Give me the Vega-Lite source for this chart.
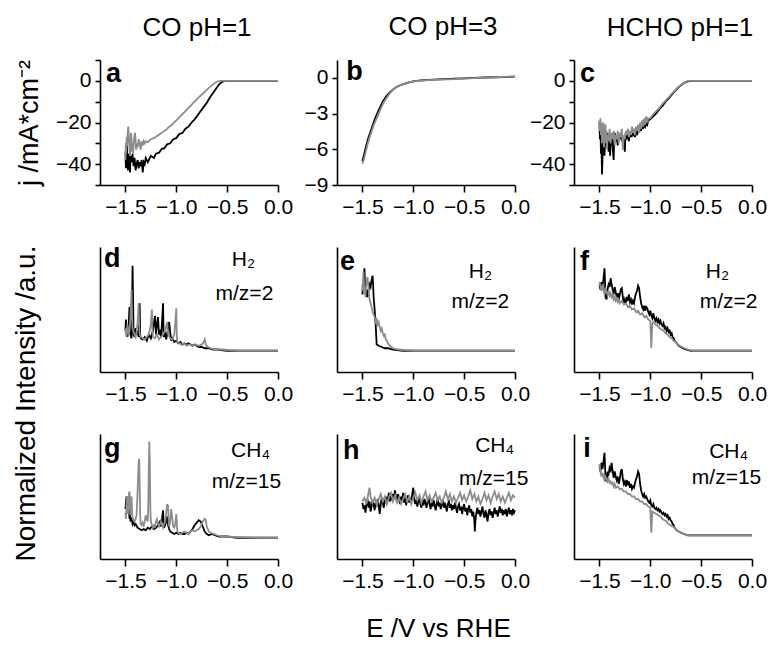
{
"$schema":"https://vega.github.io/schema/vega-lite/v6.json",
"background":"white",
"padding":{"left":12,"top":14,"right":5,"bottom":0},
"columns":3,
"spacing":{"row":62,"column":59},
"bounds":"flush",
"resolve":{"scale":{"x":"independent","y":"independent"}},
"datasets":{
"a_k":[{"E":-1.5,"v":-34},{"E":-1.495,"v":-42},{"E":-1.49,"v":-36},{"E":-1.485,"v":-31},{"E":-1.48,"v":-40},{"E":-1.475,"v":-43},{"E":-1.47,"v":-35},{"E":-1.46,"v":-38},{"E":-1.455,"v":-44},{"E":-1.45,"v":-36},{"E":-1.44,"v":-39},{"E":-1.43,"v":-35},{"E":-1.42,"v":-41},{"E":-1.41,"v":-37},{"E":-1.4,"v":-43},{"E":-1.39,"v":-40},{"E":-1.38,"v":-38},{"E":-1.37,"v":-42},{"E":-1.36,"v":-39},{"E":-1.35,"v":-41},{"E":-1.34,"v":-38},{"E":-1.33,"v":-44},{"E":-1.32,"v":-39},{"E":-1.31,"v":-40},{"E":-1.3,"v":-37},{"E":-1.28,"v":-39},{"E":-1.25,"v":-36},{"E":-1.22,"v":-37},{"E":-1.2,"v":-35},{"E":-1.17,"v":-34.5},{"E":-1.14,"v":-32.5},{"E":-1.12,"v":-32.5},{"E":-1.09,"v":-30.5},{"E":-1.06,"v":-30},{"E":-1.03,"v":-28},{"E":-1.0,"v":-27.5},{"E":-0.97,"v":-25.5},{"E":-0.94,"v":-25},{"E":-0.91,"v":-23},{"E":-0.88,"v":-22},{"E":-0.85,"v":-20},{"E":-0.82,"v":-18.5},{"E":-0.79,"v":-16.5},{"E":-0.76,"v":-14.5},{"E":-0.73,"v":-12.5},{"E":-0.7,"v":-10.5},{"E":-0.67,"v":-8},{"E":-0.64,"v":-6},{"E":-0.61,"v":-3.8},{"E":-0.58,"v":-1.8},{"E":-0.55,"v":-0.5},{"E":-0.52,"v":0},{"E":-0.3,"v":0},{"E":0,"v":0}],
"a_g":[{"E":-1.5,"v":-38},{"E":-1.497,"v":-30},{"E":-1.493,"v":-35},{"E":-1.488,"v":-27},{"E":-1.483,"v":-31},{"E":-1.478,"v":-25},{"E":-1.472,"v":-22},{"E":-1.466,"v":-27},{"E":-1.46,"v":-33},{"E":-1.455,"v":-36},{"E":-1.45,"v":-30},{"E":-1.445,"v":-25},{"E":-1.44,"v":-28},{"E":-1.435,"v":-34},{"E":-1.43,"v":-30},{"E":-1.425,"v":-35},{"E":-1.42,"v":-31},{"E":-1.415,"v":-28},{"E":-1.41,"v":-26},{"E":-1.405,"v":-25},{"E":-1.4,"v":-29},{"E":-1.395,"v":-33},{"E":-1.39,"v":-30},{"E":-1.38,"v":-32},{"E":-1.37,"v":-28},{"E":-1.36,"v":-30},{"E":-1.35,"v":-33},{"E":-1.34,"v":-29},{"E":-1.33,"v":-31},{"E":-1.32,"v":-29},{"E":-1.31,"v":-30},{"E":-1.3,"v":-29},{"E":-1.28,"v":-29.5},{"E":-1.25,"v":-28},{"E":-1.22,"v":-27.5},{"E":-1.19,"v":-26.5},{"E":-1.16,"v":-25.5},{"E":-1.13,"v":-24.5},{"E":-1.1,"v":-23.5},{"E":-1.07,"v":-22},{"E":-1.04,"v":-21},{"E":-1.01,"v":-19.5},{"E":-0.98,"v":-18},{"E":-0.95,"v":-16.5},{"E":-0.92,"v":-15},{"E":-0.89,"v":-13.5},{"E":-0.86,"v":-12},{"E":-0.83,"v":-10.5},{"E":-0.8,"v":-9},{"E":-0.77,"v":-7.5},{"E":-0.74,"v":-6.2},{"E":-0.71,"v":-4.8},{"E":-0.68,"v":-3.4},{"E":-0.65,"v":-2.2},{"E":-0.62,"v":-1},{"E":-0.59,"v":-0.2},{"E":-0.56,"v":0},{"E":-0.3,"v":0},{"E":0,"v":0}],
"b_k":[{"E":-1.5,"v":-7.0},{"E":-1.48,"v":-6.3},{"E":-1.46,"v":-5.6},{"E":-1.44,"v":-5.0},{"E":-1.42,"v":-4.5},{"E":-1.4,"v":-4.0},{"E":-1.38,"v":-3.5},{"E":-1.36,"v":-3.1},{"E":-1.34,"v":-2.7},{"E":-1.32,"v":-2.35},{"E":-1.3,"v":-2.0},{"E":-1.27,"v":-1.6},{"E":-1.24,"v":-1.3},{"E":-1.21,"v":-1.05},{"E":-1.18,"v":-0.85},{"E":-1.15,"v":-0.7},{"E":-1.12,"v":-0.6},{"E":-1.09,"v":-0.5},{"E":-1.05,"v":-0.4},{"E":-1.0,"v":-0.3},{"E":-0.95,"v":-0.23},{"E":-0.9,"v":-0.2},{"E":-0.8,"v":-0.15},{"E":-0.7,"v":-0.1},{"E":-0.6,"v":-0.07},{"E":-0.5,"v":-0.04},{"E":-0.4,"v":0},{"E":-0.3,"v":0.03},{"E":-0.2,"v":0.05},{"E":-0.1,"v":0.07},{"E":0,"v":0.1}],
"b_g":[{"E":-1.5,"v":-7.2},{"E":-1.49,"v":-7.0},{"E":-1.47,"v":-6.3},{"E":-1.45,"v":-5.6},{"E":-1.43,"v":-5.0},{"E":-1.41,"v":-4.5},{"E":-1.39,"v":-4.0},{"E":-1.37,"v":-3.6},{"E":-1.35,"v":-3.2},{"E":-1.33,"v":-2.8},{"E":-1.31,"v":-2.4},{"E":-1.29,"v":-2.05},{"E":-1.26,"v":-1.65},{"E":-1.23,"v":-1.3},{"E":-1.2,"v":-1.0},{"E":-1.17,"v":-0.8},{"E":-1.14,"v":-0.65},{"E":-1.1,"v":-0.52},{"E":-1.05,"v":-0.4},{"E":-1.0,"v":-0.3},{"E":-0.9,"v":-0.22},{"E":-0.8,"v":-0.17},{"E":-0.6,"v":-0.1},{"E":-0.4,"v":-0.02},{"E":-0.2,"v":0.05},{"E":0,"v":0.12}],
"c_k":[{"E":-1.5,"v":-20},{"E":-1.495,"v":-28},{"E":-1.49,"v":-22},{"E":-1.485,"v":-35},{"E":-1.48,"v":-30},{"E":-1.475,"v":-45},{"E":-1.47,"v":-38},{"E":-1.465,"v":-25},{"E":-1.46,"v":-33},{"E":-1.455,"v":-28},{"E":-1.45,"v":-36},{"E":-1.445,"v":-30},{"E":-1.44,"v":-27},{"E":-1.43,"v":-31},{"E":-1.42,"v":-25},{"E":-1.41,"v":-34},{"E":-1.4,"v":-28},{"E":-1.395,"v":-36},{"E":-1.39,"v":-29},{"E":-1.38,"v":-26},{"E":-1.37,"v":-32},{"E":-1.36,"v":-38},{"E":-1.355,"v":-28},{"E":-1.35,"v":-25},{"E":-1.34,"v":-29},{"E":-1.33,"v":-27},{"E":-1.32,"v":-31},{"E":-1.31,"v":-26},{"E":-1.3,"v":-28},{"E":-1.29,"v":-25},{"E":-1.28,"v":-29},{"E":-1.27,"v":-26},{"E":-1.26,"v":-30},{"E":-1.25,"v":-34},{"E":-1.245,"v":-27},{"E":-1.24,"v":-25},{"E":-1.23,"v":-28},{"E":-1.22,"v":-26},{"E":-1.21,"v":-29},{"E":-1.2,"v":-25},{"E":-1.19,"v":-27},{"E":-1.18,"v":-24},{"E":-1.17,"v":-26},{"E":-1.16,"v":-25},{"E":-1.15,"v":-27},{"E":-1.14,"v":-24},{"E":-1.13,"v":-26},{"E":-1.12,"v":-23},{"E":-1.11,"v":-25},{"E":-1.1,"v":-22},{"E":-1.09,"v":-24},{"E":-1.08,"v":-21},{"E":-1.07,"v":-23},{"E":-1.06,"v":-21},{"E":-1.05,"v":-22},{"E":-1.04,"v":-20},{"E":-1.03,"v":-21},{"E":-1.02,"v":-19},{"E":-1.0,"v":-18.5},{"E":-0.97,"v":-17},{"E":-0.94,"v":-15.5},{"E":-0.91,"v":-13.5},{"E":-0.88,"v":-12},{"E":-0.85,"v":-10},{"E":-0.82,"v":-8.5},{"E":-0.79,"v":-6.8},{"E":-0.76,"v":-5},{"E":-0.73,"v":-3.5},{"E":-0.7,"v":-2.2},{"E":-0.67,"v":-1.1},{"E":-0.64,"v":-0.4},{"E":-0.61,"v":-0.1},{"E":-0.58,"v":0},{"E":-0.3,"v":0},{"E":0,"v":0}],
"c_g":[{"E":-1.5,"v":-19},{"E":-1.495,"v":-24},{"E":-1.49,"v":-18},{"E":-1.485,"v":-26},{"E":-1.48,"v":-20},{"E":-1.475,"v":-30},{"E":-1.47,"v":-22},{"E":-1.465,"v":-28},{"E":-1.46,"v":-20},{"E":-1.455,"v":-32},{"E":-1.45,"v":-24},{"E":-1.445,"v":-27},{"E":-1.44,"v":-21},{"E":-1.435,"v":-30},{"E":-1.43,"v":-24},{"E":-1.425,"v":-33},{"E":-1.42,"v":-26},{"E":-1.41,"v":-29},{"E":-1.4,"v":-23},{"E":-1.39,"v":-30},{"E":-1.38,"v":-25},{"E":-1.37,"v":-28},{"E":-1.36,"v":-24},{"E":-1.35,"v":-31},{"E":-1.34,"v":-26},{"E":-1.33,"v":-28},{"E":-1.32,"v":-24},{"E":-1.31,"v":-30},{"E":-1.3,"v":-25},{"E":-1.29,"v":-27},{"E":-1.28,"v":-23},{"E":-1.27,"v":-33},{"E":-1.26,"v":-26},{"E":-1.25,"v":-28},{"E":-1.24,"v":-24},{"E":-1.23,"v":-26},{"E":-1.22,"v":-23},{"E":-1.21,"v":-27},{"E":-1.2,"v":-24},{"E":-1.19,"v":-26},{"E":-1.18,"v":-22},{"E":-1.17,"v":-25},{"E":-1.16,"v":-23},{"E":-1.15,"v":-26},{"E":-1.14,"v":-22},{"E":-1.13,"v":-24},{"E":-1.12,"v":-21},{"E":-1.11,"v":-25},{"E":-1.1,"v":-20},{"E":-1.09,"v":-23},{"E":-1.08,"v":-19},{"E":-1.07,"v":-22},{"E":-1.06,"v":-18},{"E":-1.05,"v":-21},{"E":-1.04,"v":-17},{"E":-1.03,"v":-20},{"E":-1.02,"v":-18},{"E":-1.0,"v":-18},{"E":-0.97,"v":-16},{"E":-0.94,"v":-14.5},{"E":-0.91,"v":-13},{"E":-0.88,"v":-11},{"E":-0.85,"v":-9.5},{"E":-0.82,"v":-8},{"E":-0.79,"v":-6.3},{"E":-0.76,"v":-4.7},{"E":-0.73,"v":-3.2},{"E":-0.7,"v":-2},{"E":-0.67,"v":-1},{"E":-0.64,"v":-0.3},{"E":-0.61,"v":0},{"E":-0.3,"v":0},{"E":0,"v":0}],
"d_k":[{"E":-1.5,"v":0.33},{"E":-1.495,"v":0.42},{"E":-1.49,"v":0.3},{"E":-1.485,"v":0.36},{"E":-1.48,"v":0.28},{"E":-1.47,"v":0.34},{"E":-1.46,"v":0.52},{"E":-1.455,"v":0.32},{"E":-1.45,"v":0.3},{"E":-1.44,"v":0.27},{"E":-1.435,"v":0.5},{"E":-1.43,"v":0.85},{"E":-1.425,"v":0.6},{"E":-1.42,"v":0.3},{"E":-1.41,"v":0.28},{"E":-1.4,"v":0.35},{"E":-1.39,"v":0.3},{"E":-1.38,"v":0.33},{"E":-1.37,"v":0.28},{"E":-1.365,"v":0.42},{"E":-1.36,"v":0.55},{"E":-1.355,"v":0.3},{"E":-1.35,"v":0.27},{"E":-1.33,"v":0.26},{"E":-1.31,"v":0.28},{"E":-1.29,"v":0.25},{"E":-1.27,"v":0.3},{"E":-1.25,"v":0.27},{"E":-1.23,"v":0.33},{"E":-1.21,"v":0.45},{"E":-1.2,"v":0.3},{"E":-1.19,"v":0.38},{"E":-1.18,"v":0.44},{"E":-1.17,"v":0.3},{"E":-1.16,"v":0.32},{"E":-1.15,"v":0.28},{"E":-1.14,"v":0.4},{"E":-1.13,"v":0.55},{"E":-1.125,"v":0.3},{"E":-1.12,"v":0.28},{"E":-1.11,"v":0.32},{"E":-1.1,"v":0.26},{"E":-1.09,"v":0.3},{"E":-1.08,"v":0.35},{"E":-1.07,"v":0.4},{"E":-1.06,"v":0.32},{"E":-1.05,"v":0.25},{"E":-1.04,"v":0.27},{"E":-1.02,"v":0.24},{"E":-1.0,"v":0.25},{"E":-0.98,"v":0.23},{"E":-0.96,"v":0.24},{"E":-0.94,"v":0.22},{"E":-0.92,"v":0.23},{"E":-0.9,"v":0.22},{"E":-0.88,"v":0.23},{"E":-0.86,"v":0.22},{"E":-0.84,"v":0.21},{"E":-0.82,"v":0.22},{"E":-0.8,"v":0.21},{"E":-0.78,"v":0.2},{"E":-0.75,"v":0.2},{"E":-0.72,"v":0.19},{"E":-0.68,"v":0.19},{"E":-0.64,"v":0.18},{"E":-0.6,"v":0.18},{"E":-0.5,"v":0.17},{"E":-0.3,"v":0.17},{"E":0,"v":0.17}],
"d_g":[{"E":-1.5,"v":0.35},{"E":-1.495,"v":0.3},{"E":-1.49,"v":0.28},{"E":-1.485,"v":0.34},{"E":-1.48,"v":0.38},{"E":-1.47,"v":0.3},{"E":-1.46,"v":0.33},{"E":-1.45,"v":0.45},{"E":-1.445,"v":0.55},{"E":-1.44,"v":0.66},{"E":-1.435,"v":0.45},{"E":-1.43,"v":0.35},{"E":-1.42,"v":0.32},{"E":-1.41,"v":0.3},{"E":-1.4,"v":0.28},{"E":-1.39,"v":0.32},{"E":-1.38,"v":0.4},{"E":-1.37,"v":0.55},{"E":-1.365,"v":0.38},{"E":-1.36,"v":0.3},{"E":-1.35,"v":0.28},{"E":-1.33,"v":0.27},{"E":-1.31,"v":0.26},{"E":-1.29,"v":0.28},{"E":-1.27,"v":0.3},{"E":-1.25,"v":0.38},{"E":-1.24,"v":0.5},{"E":-1.235,"v":0.35},{"E":-1.23,"v":0.28},{"E":-1.21,"v":0.27},{"E":-1.19,"v":0.3},{"E":-1.17,"v":0.26},{"E":-1.15,"v":0.28},{"E":-1.13,"v":0.3},{"E":-1.11,"v":0.33},{"E":-1.09,"v":0.4},{"E":-1.08,"v":0.3},{"E":-1.06,"v":0.27},{"E":-1.04,"v":0.26},{"E":-1.02,"v":0.3},{"E":-1.005,"v":0.45},{"E":-1.0,"v":0.51},{"E":-0.995,"v":0.3},{"E":-0.99,"v":0.24},{"E":-0.97,"v":0.23},{"E":-0.95,"v":0.22},{"E":-0.92,"v":0.23},{"E":-0.9,"v":0.21},{"E":-0.87,"v":0.22},{"E":-0.84,"v":0.21},{"E":-0.81,"v":0.22},{"E":-0.78,"v":0.21},{"E":-0.75,"v":0.22},{"E":-0.73,"v":0.24},{"E":-0.72,"v":0.26},{"E":-0.71,"v":0.22},{"E":-0.69,"v":0.2},{"E":-0.66,"v":0.19},{"E":-0.62,"v":0.18},{"E":-0.55,"v":0.18},{"E":-0.4,"v":0.17},{"E":-0.2,"v":0.17},{"E":0,"v":0.17}],
"e_k":[{"E":-1.5,"v":0.62},{"E":-1.495,"v":0.72},{"E":-1.49,"v":0.68},{"E":-1.485,"v":0.75},{"E":-1.48,"v":0.83},{"E":-1.475,"v":0.7},{"E":-1.47,"v":0.64},{"E":-1.46,"v":0.6},{"E":-1.455,"v":0.66},{"E":-1.45,"v":0.6},{"E":-1.44,"v":0.65},{"E":-1.43,"v":0.7},{"E":-1.42,"v":0.68},{"E":-1.41,"v":0.74},{"E":-1.4,"v":0.77},{"E":-1.395,"v":0.7},{"E":-1.39,"v":0.6},{"E":-1.38,"v":0.5},{"E":-1.37,"v":0.38},{"E":-1.36,"v":0.22},{"E":-1.34,"v":0.21},{"E":-1.31,"v":0.2},{"E":-1.28,"v":0.19},{"E":-1.25,"v":0.19},{"E":-1.2,"v":0.18},{"E":-1.1,"v":0.17},{"E":-0.8,"v":0.17},{"E":-0.5,"v":0.17},{"E":0,"v":0.17}],
"e_g":[{"E":-1.5,"v":0.65},{"E":-1.495,"v":0.72},{"E":-1.49,"v":0.8},{"E":-1.485,"v":0.7},{"E":-1.48,"v":0.62},{"E":-1.475,"v":0.68},{"E":-1.47,"v":0.6},{"E":-1.46,"v":0.72},{"E":-1.45,"v":0.76},{"E":-1.44,"v":0.68},{"E":-1.435,"v":0.62},{"E":-1.43,"v":0.58},{"E":-1.42,"v":0.55},{"E":-1.41,"v":0.52},{"E":-1.4,"v":0.48},{"E":-1.39,"v":0.46},{"E":-1.38,"v":0.44},{"E":-1.37,"v":0.4},{"E":-1.36,"v":0.42},{"E":-1.35,"v":0.38},{"E":-1.34,"v":0.4},{"E":-1.33,"v":0.36},{"E":-1.32,"v":0.33},{"E":-1.31,"v":0.35},{"E":-1.3,"v":0.31},{"E":-1.29,"v":0.29},{"E":-1.28,"v":0.3},{"E":-1.27,"v":0.26},{"E":-1.26,"v":0.25},{"E":-1.25,"v":0.23},{"E":-1.23,"v":0.21},{"E":-1.2,"v":0.19},{"E":-1.15,"v":0.18},{"E":-1.0,"v":0.17},{"E":-0.5,"v":0.17},{"E":0,"v":0.17}],
"f_k":[{"E":-1.5,"v":0.7},{"E":-1.49,"v":0.66},{"E":-1.48,"v":0.72},{"E":-1.47,"v":0.68},{"E":-1.46,"v":0.75},{"E":-1.45,"v":0.83},{"E":-1.445,"v":0.72},{"E":-1.44,"v":0.6},{"E":-1.43,"v":0.58},{"E":-1.42,"v":0.66},{"E":-1.41,"v":0.7},{"E":-1.4,"v":0.68},{"E":-1.39,"v":0.75},{"E":-1.38,"v":0.7},{"E":-1.37,"v":0.66},{"E":-1.36,"v":0.62},{"E":-1.35,"v":0.68},{"E":-1.34,"v":0.64},{"E":-1.33,"v":0.6},{"E":-1.32,"v":0.63},{"E":-1.31,"v":0.58},{"E":-1.3,"v":0.62},{"E":-1.29,"v":0.66},{"E":-1.28,"v":0.67},{"E":-1.27,"v":0.6},{"E":-1.26,"v":0.55},{"E":-1.25,"v":0.58},{"E":-1.24,"v":0.55},{"E":-1.23,"v":0.6},{"E":-1.22,"v":0.57},{"E":-1.21,"v":0.62},{"E":-1.2,"v":0.56},{"E":-1.19,"v":0.58},{"E":-1.18,"v":0.54},{"E":-1.17,"v":0.57},{"E":-1.16,"v":0.55},{"E":-1.15,"v":0.6},{"E":-1.14,"v":0.63},{"E":-1.13,"v":0.65},{"E":-1.12,"v":0.69},{"E":-1.11,"v":0.67},{"E":-1.1,"v":0.6},{"E":-1.09,"v":0.55},{"E":-1.08,"v":0.52},{"E":-1.07,"v":0.5},{"E":-1.06,"v":0.53},{"E":-1.05,"v":0.49},{"E":-1.04,"v":0.52},{"E":-1.03,"v":0.51},{"E":-1.02,"v":0.48},{"E":-1.01,"v":0.46},{"E":-1.0,"v":0.49},{"E":-0.99,"v":0.45},{"E":-0.98,"v":0.43},{"E":-0.97,"v":0.47},{"E":-0.96,"v":0.43},{"E":-0.95,"v":0.41},{"E":-0.94,"v":0.43},{"E":-0.93,"v":0.4},{"E":-0.92,"v":0.42},{"E":-0.91,"v":0.39},{"E":-0.9,"v":0.41},{"E":-0.89,"v":0.38},{"E":-0.88,"v":0.37},{"E":-0.87,"v":0.39},{"E":-0.86,"v":0.35},{"E":-0.85,"v":0.36},{"E":-0.84,"v":0.33},{"E":-0.83,"v":0.35},{"E":-0.82,"v":0.32},{"E":-0.81,"v":0.33},{"E":-0.8,"v":0.3},{"E":-0.79,"v":0.31},{"E":-0.78,"v":0.28},{"E":-0.77,"v":0.27},{"E":-0.76,"v":0.25},{"E":-0.74,"v":0.23},{"E":-0.72,"v":0.21},{"E":-0.7,"v":0.2},{"E":-0.68,"v":0.19},{"E":-0.65,"v":0.18},{"E":-0.6,"v":0.17},{"E":-0.3,"v":0.17},{"E":0,"v":0.17}],
"f_g":[{"E":-1.5,"v":0.72},{"E":-1.49,"v":0.68},{"E":-1.48,"v":0.65},{"E":-1.47,"v":0.7},{"E":-1.46,"v":0.66},{"E":-1.45,"v":0.62},{"E":-1.44,"v":0.66},{"E":-1.43,"v":0.64},{"E":-1.42,"v":0.62},{"E":-1.41,"v":0.65},{"E":-1.4,"v":0.61},{"E":-1.39,"v":0.63},{"E":-1.38,"v":0.6},{"E":-1.37,"v":0.62},{"E":-1.36,"v":0.58},{"E":-1.35,"v":0.6},{"E":-1.34,"v":0.57},{"E":-1.33,"v":0.59},{"E":-1.32,"v":0.56},{"E":-1.31,"v":0.58},{"E":-1.3,"v":0.55},{"E":-1.28,"v":0.57},{"E":-1.26,"v":0.54},{"E":-1.24,"v":0.55},{"E":-1.22,"v":0.52},{"E":-1.2,"v":0.53},{"E":-1.18,"v":0.5},{"E":-1.16,"v":0.51},{"E":-1.14,"v":0.48},{"E":-1.12,"v":0.49},{"E":-1.1,"v":0.46},{"E":-1.08,"v":0.47},{"E":-1.06,"v":0.44},{"E":-1.04,"v":0.45},{"E":-1.02,"v":0.42},{"E":-1.0,"v":0.41},{"E":-0.995,"v":0.3},{"E":-0.99,"v":0.19},{"E":-0.985,"v":0.3},{"E":-0.98,"v":0.39},{"E":-0.97,"v":0.4},{"E":-0.95,"v":0.38},{"E":-0.93,"v":0.37},{"E":-0.91,"v":0.35},{"E":-0.89,"v":0.34},{"E":-0.87,"v":0.33},{"E":-0.85,"v":0.31},{"E":-0.83,"v":0.3},{"E":-0.81,"v":0.28},{"E":-0.79,"v":0.27},{"E":-0.77,"v":0.25},{"E":-0.75,"v":0.24},{"E":-0.73,"v":0.22},{"E":-0.71,"v":0.21},{"E":-0.69,"v":0.2},{"E":-0.66,"v":0.19},{"E":-0.63,"v":0.18},{"E":-0.58,"v":0.17},{"E":-0.3,"v":0.17},{"E":0,"v":0.17}],
"g_k":[{"E":-1.5,"v":0.4},{"E":-1.495,"v":0.45},{"E":-1.49,"v":0.5},{"E":-1.485,"v":0.42},{"E":-1.48,"v":0.36},{"E":-1.475,"v":0.44},{"E":-1.47,"v":0.5},{"E":-1.465,"v":0.4},{"E":-1.46,"v":0.32},{"E":-1.455,"v":0.36},{"E":-1.45,"v":0.3},{"E":-1.44,"v":0.33},{"E":-1.43,"v":0.28},{"E":-1.42,"v":0.3},{"E":-1.41,"v":0.27},{"E":-1.4,"v":0.28},{"E":-1.38,"v":0.25},{"E":-1.36,"v":0.24},{"E":-1.34,"v":0.23},{"E":-1.32,"v":0.24},{"E":-1.3,"v":0.23},{"E":-1.28,"v":0.25},{"E":-1.26,"v":0.24},{"E":-1.24,"v":0.26},{"E":-1.22,"v":0.24},{"E":-1.2,"v":0.25},{"E":-1.18,"v":0.27},{"E":-1.16,"v":0.3},{"E":-1.15,"v":0.26},{"E":-1.14,"v":0.32},{"E":-1.13,"v":0.39},{"E":-1.125,"v":0.3},{"E":-1.12,"v":0.25},{"E":-1.11,"v":0.27},{"E":-1.1,"v":0.3},{"E":-1.09,"v":0.34},{"E":-1.08,"v":0.27},{"E":-1.07,"v":0.24},{"E":-1.06,"v":0.22},{"E":-1.04,"v":0.21},{"E":-1.02,"v":0.2},{"E":-1.0,"v":0.21},{"E":-0.98,"v":0.2},{"E":-0.96,"v":0.21},{"E":-0.94,"v":0.2},{"E":-0.92,"v":0.2},{"E":-0.9,"v":0.21},{"E":-0.88,"v":0.2},{"E":-0.86,"v":0.22},{"E":-0.84,"v":0.24},{"E":-0.82,"v":0.27},{"E":-0.8,"v":0.29},{"E":-0.78,"v":0.31},{"E":-0.76,"v":0.3},{"E":-0.74,"v":0.26},{"E":-0.72,"v":0.22},{"E":-0.7,"v":0.2},{"E":-0.68,"v":0.19},{"E":-0.65,"v":0.2},{"E":-0.62,"v":0.19},{"E":-0.58,"v":0.18},{"E":-0.5,"v":0.18},{"E":-0.4,"v":0.17},{"E":-0.2,"v":0.17},{"E":0,"v":0.17}],
"g_g":[{"E":-1.5,"v":0.37},{"E":-1.495,"v":0.32},{"E":-1.49,"v":0.42},{"E":-1.485,"v":0.5},{"E":-1.48,"v":0.45},{"E":-1.475,"v":0.36},{"E":-1.47,"v":0.48},{"E":-1.465,"v":0.52},{"E":-1.46,"v":0.54},{"E":-1.455,"v":0.4},{"E":-1.45,"v":0.35},{"E":-1.445,"v":0.44},{"E":-1.44,"v":0.5},{"E":-1.435,"v":0.38},{"E":-1.43,"v":0.33},{"E":-1.42,"v":0.31},{"E":-1.41,"v":0.3},{"E":-1.4,"v":0.32},{"E":-1.39,"v":0.35},{"E":-1.38,"v":0.55},{"E":-1.37,"v":0.78},{"E":-1.365,"v":0.8},{"E":-1.36,"v":0.6},{"E":-1.355,"v":0.35},{"E":-1.35,"v":0.28},{"E":-1.34,"v":0.27},{"E":-1.33,"v":0.29},{"E":-1.32,"v":0.27},{"E":-1.31,"v":0.3},{"E":-1.3,"v":0.35},{"E":-1.29,"v":0.32},{"E":-1.28,"v":0.3},{"E":-1.275,"v":0.45},{"E":-1.27,"v":0.75},{"E":-1.265,"v":0.94},{"E":-1.26,"v":0.75},{"E":-1.255,"v":0.4},{"E":-1.25,"v":0.3},{"E":-1.24,"v":0.27},{"E":-1.23,"v":0.25},{"E":-1.22,"v":0.27},{"E":-1.21,"v":0.26},{"E":-1.2,"v":0.3},{"E":-1.19,"v":0.32},{"E":-1.18,"v":0.28},{"E":-1.17,"v":0.26},{"E":-1.16,"v":0.28},{"E":-1.15,"v":0.3},{"E":-1.14,"v":0.27},{"E":-1.13,"v":0.25},{"E":-1.12,"v":0.28},{"E":-1.11,"v":0.3},{"E":-1.1,"v":0.36},{"E":-1.09,"v":0.44},{"E":-1.08,"v":0.42},{"E":-1.075,"v":0.3},{"E":-1.07,"v":0.26},{"E":-1.06,"v":0.3},{"E":-1.05,"v":0.4},{"E":-1.04,"v":0.33},{"E":-1.03,"v":0.26},{"E":-1.02,"v":0.25},{"E":-1.01,"v":0.28},{"E":-1.0,"v":0.36},{"E":-0.995,"v":0.3},{"E":-0.99,"v":0.22},{"E":-0.98,"v":0.21},{"E":-0.96,"v":0.2},{"E":-0.94,"v":0.21},{"E":-0.92,"v":0.22},{"E":-0.9,"v":0.21},{"E":-0.88,"v":0.2},{"E":-0.86,"v":0.22},{"E":-0.84,"v":0.23},{"E":-0.82,"v":0.22},{"E":-0.8,"v":0.23},{"E":-0.78,"v":0.24},{"E":-0.76,"v":0.26},{"E":-0.74,"v":0.3},{"E":-0.72,"v":0.32},{"E":-0.71,"v":0.31},{"E":-0.7,"v":0.26},{"E":-0.68,"v":0.22},{"E":-0.66,"v":0.21},{"E":-0.63,"v":0.2},{"E":-0.6,"v":0.19},{"E":-0.55,"v":0.18},{"E":-0.4,"v":0.175},{"E":-0.2,"v":0.17},{"E":0,"v":0.17}],
"h_k":[{"E":-1.5,"v":0.45},{"E":-1.49,"v":0.4},{"E":-1.48,"v":0.43},{"E":-1.47,"v":0.37},{"E":-1.46,"v":0.44},{"E":-1.45,"v":0.48},{"E":-1.44,"v":0.41},{"E":-1.43,"v":0.46},{"E":-1.42,"v":0.38},{"E":-1.41,"v":0.42},{"E":-1.4,"v":0.47},{"E":-1.39,"v":0.44},{"E":-1.38,"v":0.39},{"E":-1.37,"v":0.45},{"E":-1.36,"v":0.42},{"E":-1.35,"v":0.48},{"E":-1.34,"v":0.43},{"E":-1.33,"v":0.36},{"E":-1.32,"v":0.44},{"E":-1.31,"v":0.49},{"E":-1.3,"v":0.45},{"E":-1.29,"v":0.41},{"E":-1.28,"v":0.47},{"E":-1.27,"v":0.5},{"E":-1.26,"v":0.44},{"E":-1.25,"v":0.48},{"E":-1.24,"v":0.53},{"E":-1.23,"v":0.46},{"E":-1.22,"v":0.51},{"E":-1.21,"v":0.47},{"E":-1.2,"v":0.52},{"E":-1.19,"v":0.48},{"E":-1.18,"v":0.55},{"E":-1.17,"v":0.49},{"E":-1.16,"v":0.46},{"E":-1.15,"v":0.52},{"E":-1.14,"v":0.48},{"E":-1.13,"v":0.44},{"E":-1.12,"v":0.5},{"E":-1.11,"v":0.47},{"E":-1.1,"v":0.53},{"E":-1.09,"v":0.45},{"E":-1.08,"v":0.49},{"E":-1.07,"v":0.43},{"E":-1.06,"v":0.48},{"E":-1.05,"v":0.51},{"E":-1.04,"v":0.45},{"E":-1.03,"v":0.49},{"E":-1.02,"v":0.46},{"E":-1.01,"v":0.52},{"E":-1.0,"v":0.57},{"E":-0.99,"v":0.48},{"E":-0.98,"v":0.44},{"E":-0.97,"v":0.47},{"E":-0.96,"v":0.42},{"E":-0.95,"v":0.46},{"E":-0.94,"v":0.5},{"E":-0.93,"v":0.44},{"E":-0.92,"v":0.41},{"E":-0.91,"v":0.47},{"E":-0.9,"v":0.43},{"E":-0.89,"v":0.48},{"E":-0.88,"v":0.45},{"E":-0.87,"v":0.41},{"E":-0.86,"v":0.46},{"E":-0.85,"v":0.49},{"E":-0.84,"v":0.44},{"E":-0.83,"v":0.4},{"E":-0.82,"v":0.45},{"E":-0.81,"v":0.42},{"E":-0.8,"v":0.47},{"E":-0.79,"v":0.43},{"E":-0.78,"v":0.39},{"E":-0.77,"v":0.44},{"E":-0.76,"v":0.48},{"E":-0.75,"v":0.42},{"E":-0.74,"v":0.45},{"E":-0.73,"v":0.4},{"E":-0.72,"v":0.44},{"E":-0.71,"v":0.47},{"E":-0.7,"v":0.41},{"E":-0.69,"v":0.45},{"E":-0.68,"v":0.42},{"E":-0.67,"v":0.38},{"E":-0.66,"v":0.44},{"E":-0.65,"v":0.46},{"E":-0.64,"v":0.41},{"E":-0.63,"v":0.44},{"E":-0.62,"v":0.39},{"E":-0.61,"v":0.43},{"E":-0.6,"v":0.4},{"E":-0.59,"v":0.45},{"E":-0.58,"v":0.41},{"E":-0.57,"v":0.37},{"E":-0.56,"v":0.42},{"E":-0.55,"v":0.44},{"E":-0.54,"v":0.39},{"E":-0.53,"v":0.42},{"E":-0.52,"v":0.36},{"E":-0.51,"v":0.41},{"E":-0.5,"v":0.44},{"E":-0.49,"v":0.38},{"E":-0.48,"v":0.41},{"E":-0.47,"v":0.35},{"E":-0.46,"v":0.4},{"E":-0.45,"v":0.43},{"E":-0.44,"v":0.37},{"E":-0.43,"v":0.4},{"E":-0.42,"v":0.34},{"E":-0.41,"v":0.38},{"E":-0.4,"v":0.31},{"E":-0.395,"v":0.22},{"E":-0.39,"v":0.3},{"E":-0.38,"v":0.37},{"E":-0.37,"v":0.41},{"E":-0.36,"v":0.36},{"E":-0.35,"v":0.39},{"E":-0.34,"v":0.34},{"E":-0.33,"v":0.38},{"E":-0.32,"v":0.42},{"E":-0.31,"v":0.36},{"E":-0.3,"v":0.33},{"E":-0.29,"v":0.39},{"E":-0.28,"v":0.35},{"E":-0.27,"v":0.3},{"E":-0.26,"v":0.37},{"E":-0.25,"v":0.4},{"E":-0.24,"v":0.35},{"E":-0.23,"v":0.38},{"E":-0.22,"v":0.33},{"E":-0.21,"v":0.37},{"E":-0.2,"v":0.41},{"E":-0.19,"v":0.36},{"E":-0.18,"v":0.39},{"E":-0.17,"v":0.34},{"E":-0.16,"v":0.38},{"E":-0.15,"v":0.42},{"E":-0.14,"v":0.37},{"E":-0.13,"v":0.4},{"E":-0.12,"v":0.35},{"E":-0.11,"v":0.39},{"E":-0.1,"v":0.36},{"E":-0.09,"v":0.4},{"E":-0.08,"v":0.34},{"E":-0.07,"v":0.38},{"E":-0.06,"v":0.41},{"E":-0.05,"v":0.36},{"E":-0.04,"v":0.39},{"E":-0.03,"v":0.35},{"E":-0.02,"v":0.4},{"E":-0.01,"v":0.37},{"E":0,"v":0.39}],
"h_g":[{"E":-1.5,"v":0.46},{"E":-1.48,"v":0.49},{"E":-1.46,"v":0.44},{"E":-1.44,"v":0.53},{"E":-1.43,"v":0.57},{"E":-1.42,"v":0.5},{"E":-1.4,"v":0.45},{"E":-1.38,"v":0.49},{"E":-1.36,"v":0.43},{"E":-1.34,"v":0.48},{"E":-1.32,"v":0.52},{"E":-1.3,"v":0.46},{"E":-1.28,"v":0.5},{"E":-1.26,"v":0.44},{"E":-1.24,"v":0.49},{"E":-1.22,"v":0.53},{"E":-1.2,"v":0.46},{"E":-1.18,"v":0.51},{"E":-1.16,"v":0.45},{"E":-1.14,"v":0.49},{"E":-1.12,"v":0.44},{"E":-1.1,"v":0.48},{"E":-1.08,"v":0.52},{"E":-1.06,"v":0.46},{"E":-1.04,"v":0.5},{"E":-1.02,"v":0.44},{"E":-1.0,"v":0.49},{"E":-0.98,"v":0.53},{"E":-0.96,"v":0.47},{"E":-0.94,"v":0.51},{"E":-0.92,"v":0.45},{"E":-0.9,"v":0.5},{"E":-0.88,"v":0.54},{"E":-0.86,"v":0.47},{"E":-0.84,"v":0.51},{"E":-0.82,"v":0.46},{"E":-0.8,"v":0.49},{"E":-0.78,"v":0.53},{"E":-0.76,"v":0.47},{"E":-0.74,"v":0.5},{"E":-0.72,"v":0.45},{"E":-0.7,"v":0.49},{"E":-0.68,"v":0.54},{"E":-0.66,"v":0.48},{"E":-0.64,"v":0.52},{"E":-0.62,"v":0.46},{"E":-0.6,"v":0.5},{"E":-0.58,"v":0.45},{"E":-0.56,"v":0.49},{"E":-0.54,"v":0.53},{"E":-0.52,"v":0.47},{"E":-0.5,"v":0.51},{"E":-0.48,"v":0.46},{"E":-0.46,"v":0.5},{"E":-0.44,"v":0.55},{"E":-0.42,"v":0.48},{"E":-0.4,"v":0.52},{"E":-0.38,"v":0.46},{"E":-0.36,"v":0.5},{"E":-0.34,"v":0.44},{"E":-0.32,"v":0.48},{"E":-0.3,"v":0.53},{"E":-0.28,"v":0.47},{"E":-0.26,"v":0.51},{"E":-0.24,"v":0.45},{"E":-0.22,"v":0.5},{"E":-0.2,"v":0.54},{"E":-0.18,"v":0.48},{"E":-0.16,"v":0.52},{"E":-0.14,"v":0.46},{"E":-0.12,"v":0.5},{"E":-0.1,"v":0.45},{"E":-0.08,"v":0.49},{"E":-0.06,"v":0.53},{"E":-0.04,"v":0.47},{"E":-0.02,"v":0.51},{"E":0,"v":0.49}],
"i_k":[{"E":-1.5,"v":0.74},{"E":-1.49,"v":0.7},{"E":-1.48,"v":0.77},{"E":-1.47,"v":0.72},{"E":-1.46,"v":0.78},{"E":-1.45,"v":0.85},{"E":-1.445,"v":0.75},{"E":-1.44,"v":0.64},{"E":-1.43,"v":0.62},{"E":-1.42,"v":0.7},{"E":-1.41,"v":0.68},{"E":-1.4,"v":0.73},{"E":-1.39,"v":0.71},{"E":-1.38,"v":0.77},{"E":-1.37,"v":0.7},{"E":-1.36,"v":0.65},{"E":-1.35,"v":0.7},{"E":-1.34,"v":0.66},{"E":-1.33,"v":0.63},{"E":-1.32,"v":0.66},{"E":-1.31,"v":0.6},{"E":-1.3,"v":0.64},{"E":-1.29,"v":0.7},{"E":-1.28,"v":0.72},{"E":-1.27,"v":0.64},{"E":-1.26,"v":0.6},{"E":-1.25,"v":0.62},{"E":-1.24,"v":0.58},{"E":-1.23,"v":0.63},{"E":-1.22,"v":0.59},{"E":-1.21,"v":0.62},{"E":-1.2,"v":0.57},{"E":-1.19,"v":0.6},{"E":-1.18,"v":0.56},{"E":-1.17,"v":0.58},{"E":-1.16,"v":0.57},{"E":-1.15,"v":0.61},{"E":-1.14,"v":0.64},{"E":-1.13,"v":0.66},{"E":-1.12,"v":0.7},{"E":-1.11,"v":0.68},{"E":-1.1,"v":0.6},{"E":-1.09,"v":0.55},{"E":-1.08,"v":0.52},{"E":-1.07,"v":0.5},{"E":-1.06,"v":0.52},{"E":-1.05,"v":0.49},{"E":-1.04,"v":0.5},{"E":-1.03,"v":0.48},{"E":-1.02,"v":0.46},{"E":-1.01,"v":0.45},{"E":-1.0,"v":0.47},{"E":-0.99,"v":0.43},{"E":-0.98,"v":0.42},{"E":-0.97,"v":0.44},{"E":-0.96,"v":0.41},{"E":-0.95,"v":0.4},{"E":-0.94,"v":0.41},{"E":-0.93,"v":0.39},{"E":-0.92,"v":0.4},{"E":-0.91,"v":0.38},{"E":-0.9,"v":0.39},{"E":-0.89,"v":0.37},{"E":-0.88,"v":0.36},{"E":-0.87,"v":0.37},{"E":-0.86,"v":0.35},{"E":-0.85,"v":0.36},{"E":-0.84,"v":0.34},{"E":-0.83,"v":0.35},{"E":-0.82,"v":0.32},{"E":-0.81,"v":0.33},{"E":-0.8,"v":0.31},{"E":-0.79,"v":0.3},{"E":-0.78,"v":0.28},{"E":-0.77,"v":0.27},{"E":-0.76,"v":0.25},{"E":-0.74,"v":0.23},{"E":-0.72,"v":0.22},{"E":-0.7,"v":0.21},{"E":-0.67,"v":0.2},{"E":-0.63,"v":0.19},{"E":-0.3,"v":0.19},{"E":0,"v":0.19}],
"i_g":[{"E":-1.5,"v":0.76},{"E":-1.49,"v":0.7},{"E":-1.48,"v":0.66},{"E":-1.47,"v":0.69},{"E":-1.46,"v":0.65},{"E":-1.45,"v":0.63},{"E":-1.44,"v":0.66},{"E":-1.43,"v":0.64},{"E":-1.42,"v":0.62},{"E":-1.41,"v":0.64},{"E":-1.4,"v":0.61},{"E":-1.39,"v":0.62},{"E":-1.38,"v":0.6},{"E":-1.37,"v":0.61},{"E":-1.36,"v":0.58},{"E":-1.35,"v":0.6},{"E":-1.34,"v":0.57},{"E":-1.32,"v":0.58},{"E":-1.3,"v":0.56},{"E":-1.28,"v":0.56},{"E":-1.26,"v":0.54},{"E":-1.24,"v":0.54},{"E":-1.22,"v":0.52},{"E":-1.2,"v":0.52},{"E":-1.18,"v":0.5},{"E":-1.16,"v":0.5},{"E":-1.14,"v":0.48},{"E":-1.12,"v":0.48},{"E":-1.1,"v":0.46},{"E":-1.08,"v":0.46},{"E":-1.06,"v":0.44},{"E":-1.04,"v":0.44},{"E":-1.02,"v":0.42},{"E":-1.0,"v":0.41},{"E":-0.995,"v":0.3},{"E":-0.99,"v":0.21},{"E":-0.985,"v":0.3},{"E":-0.98,"v":0.38},{"E":-0.96,"v":0.37},{"E":-0.94,"v":0.36},{"E":-0.92,"v":0.35},{"E":-0.9,"v":0.34},{"E":-0.88,"v":0.32},{"E":-0.86,"v":0.31},{"E":-0.84,"v":0.3},{"E":-0.82,"v":0.28},{"E":-0.8,"v":0.27},{"E":-0.78,"v":0.26},{"E":-0.76,"v":0.25},{"E":-0.74,"v":0.23},{"E":-0.72,"v":0.22},{"E":-0.7,"v":0.21},{"E":-0.67,"v":0.2},{"E":-0.63,"v":0.19},{"E":-0.3,"v":0.19},{"E":0,"v":0.19}],
"letters":[{"p":"a","t":"a","E":-1.69,"v":-0.5},{"p":"b","t":"b","E":-1.66,"v":-0.2},{"p":"c","t":"c","E":-1.69,"v":-0.5},{"p":"d","t":"d","E":-1.71,"v":0.84},{"p":"e","t":"e","E":-1.72,"v":0.82},{"p":"f","t":"f","E":-1.69,"v":0.82},{"p":"g","t":"g","E":-1.71,"v":0.82},{"p":"h","t":"h","E":-1.69,"v":0.8},{"p":"i","t":"i","E":-1.66,"v":0.82}],
"notes":[{"p":"d","t":"H₂","E":-0.34,"v":0.85},{"p":"d","t":"m/z=2","E":-0.33,"v":0.58},{"p":"e","t":"H₂","E":-0.34,"v":0.75},{"p":"e","t":"m/z=2","E":-0.34,"v":0.51},{"p":"f","t":"H₂","E":-0.34,"v":0.75},{"p":"f","t":"m/z=2","E":-0.23,"v":0.51},{"p":"g","t":"CH₄","E":-0.27,"v":0.82},{"p":"g","t":"m/z=15","E":-0.31,"v":0.57},{"p":"h","t":"CH₄","E":-0.2,"v":0.86},{"p":"h","t":"m/z=15","E":-0.21,"v":0.59},{"p":"i","t":"CH₄","E":-0.23,"v":0.81},{"p":"i","t":"m/z=15","E":-0.25,"v":0.6}]
},
"concat":[
{"width":178,"height":125,"title":{"text":"CO pH=1","dx":8,"fontSize":26,"fontWeight":"normal","font":"Liberation Sans","color":"#000","offset":8},
"layer":[
{"data":{"name":"a_k"},"mark":{"type":"line","color":"#000000","strokeWidth":1.8},
"encoding":{"x":{"field":"E","type":"quantitative","scale":{"domain":[-1.75,0],"nice":false,"zero":false},"axis":{"values":[-1.5,-1.25,-1,-0.75,-0.5,-0.25,0],"labelExpr":"abs(datum.value*2-round(datum.value*2))<0.01 ? format(datum.value,'.1f') : ''","tickSize":{"condition":{"test":"abs(datum.value*2-round(datum.value*2))<0.01","value":7},"value":4},"title":null,"labelFlush":false,"labelOverlap":false}},
"y":{"field":"v","type":"quantitative","scale":{"domain":[-50,10],"nice":false,"zero":false},"axis":{"tickCount":6,"labelExpr":"abs(datum.value/20-round(datum.value/20))<0.01 ? datum.label : ''","tickSize":5,"title":"j /mA*cm⁻²","titleFontSize":27,"titlePadding":12,"labelFlush":false,"labelOverlap":false}}}},
{"data":{"name":"a_g"},"mark":{"type":"line","color":"#8c8c8c","strokeWidth":1.8},"encoding":{"x":{"field":"E","type":"quantitative"},"y":{"field":"v","type":"quantitative"}}},
{"data":{"name":"letters"},"transform":[{"filter":"datum.p=='a'"}],"mark":{"type":"text","font":"Liberation Sans","fontWeight":"bold","fontSize":27,"align":"left","baseline":"alphabetic","color":"#000"},"encoding":{"x":{"field":"E","type":"quantitative"},"y":{"field":"v","type":"quantitative"},"text":{"field":"t"}}}
]},
{"width":178,"height":125,"title":{"text":"CO pH=3","dx":17,"fontSize":26,"fontWeight":"normal","font":"Liberation Sans","color":"#000","offset":18},
"layer":[
{"data":{"name":"b_k"},"mark":{"type":"line","color":"#000000","strokeWidth":1.8},
"encoding":{"x":{"field":"E","type":"quantitative","scale":{"domain":[-1.75,0],"nice":false,"zero":false},"axis":{"values":[-1.5,-1.25,-1,-0.75,-0.5,-0.25,0],"labelExpr":"abs(datum.value*2-round(datum.value*2))<0.01 ? format(datum.value,'.1f') : ''","tickSize":{"condition":{"test":"abs(datum.value*2-round(datum.value*2))<0.01","value":7},"value":4},"title":null,"labelFlush":false,"labelOverlap":false}},
"y":{"field":"v","type":"quantitative","scale":{"domain":[-9,1.5],"nice":false,"zero":false},"axis":{"values":[-9,-7.5,-6,-4.5,-3,-1.5,0,1.5],"labelExpr":"datum.value == 0 || datum.value == -3 || datum.value == -6 || datum.value == -9 ? format(datum.value,'d') : ''","tickSize":5,"title":null,"labelFlush":false,"labelOverlap":false}}}},
{"data":{"name":"b_g"},"mark":{"type":"line","color":"#8c8c8c","strokeWidth":1.8},"encoding":{"x":{"field":"E","type":"quantitative"},"y":{"field":"v","type":"quantitative"}}},
{"data":{"name":"letters"},"transform":[{"filter":"datum.p=='b'"}],"mark":{"type":"text","font":"Liberation Sans","fontWeight":"bold","fontSize":27,"align":"left","baseline":"alphabetic","color":"#000"},"encoding":{"x":{"field":"E","type":"quantitative"},"y":{"field":"v","type":"quantitative"},"text":{"field":"t"}}}
]},
{"width":178,"height":125,"title":{"text":"HCHO pH=1","dx":17,"fontSize":26,"fontWeight":"normal","font":"Liberation Sans","color":"#000","offset":8},
"layer":[
{"data":{"name":"c_k"},"mark":{"type":"line","color":"#000000","strokeWidth":1.8},
"encoding":{"x":{"field":"E","type":"quantitative","scale":{"domain":[-1.75,0],"nice":false,"zero":false},"axis":{"values":[-1.5,-1.25,-1,-0.75,-0.5,-0.25,0],"labelExpr":"abs(datum.value*2-round(datum.value*2))<0.01 ? format(datum.value,'.1f') : ''","tickSize":{"condition":{"test":"abs(datum.value*2-round(datum.value*2))<0.01","value":7},"value":4},"title":null,"labelFlush":false,"labelOverlap":false}},
"y":{"field":"v","type":"quantitative","scale":{"domain":[-50,10],"nice":false,"zero":false},"axis":{"tickCount":6,"labelExpr":"abs(datum.value/20-round(datum.value/20))<0.01 ? datum.label : ''","tickSize":5,"title":null,"labelFlush":false,"labelOverlap":false}}}},
{"data":{"name":"c_g"},"mark":{"type":"line","color":"#8c8c8c","strokeWidth":1.8},"encoding":{"x":{"field":"E","type":"quantitative"},"y":{"field":"v","type":"quantitative"}}},
{"data":{"name":"letters"},"transform":[{"filter":"datum.p=='c'"}],"mark":{"type":"text","font":"Liberation Sans","fontWeight":"bold","fontSize":27,"align":"left","baseline":"alphabetic","color":"#000"},"encoding":{"x":{"field":"E","type":"quantitative"},"y":{"field":"v","type":"quantitative"},"text":{"field":"t"}}}
]},
{"width":178,"height":125,
"layer":[
{"data":{"name":"d_k"},"mark":{"type":"line","color":"#000000","strokeWidth":1.8},
"encoding":{"x":{"field":"E","type":"quantitative","scale":{"domain":[-1.75,0],"nice":false,"zero":false},"axis":{"values":[-1.5,-1.25,-1,-0.75,-0.5,-0.25,0],"labelExpr":"abs(datum.value*2-round(datum.value*2))<0.01 ? format(datum.value,'.1f') : ''","tickSize":{"condition":{"test":"abs(datum.value*2-round(datum.value*2))<0.01","value":7},"value":4},"title":null,"labelFlush":false,"labelOverlap":false}},
"y":{"field":"v","type":"quantitative","scale":{"domain":[0,1],"nice":false,"zero":false},"axis":{"values":[],"labels":false,"ticks":false,"title":null}}}},
{"data":{"name":"d_g"},"mark":{"type":"line","color":"#8c8c8c","strokeWidth":1.8},"encoding":{"x":{"field":"E","type":"quantitative"},"y":{"field":"v","type":"quantitative"}}},
{"data":{"name":"letters"},"transform":[{"filter":"datum.p=='d'"}],"mark":{"type":"text","font":"Liberation Sans","fontWeight":"bold","fontSize":27,"align":"left","baseline":"alphabetic","color":"#000"},"encoding":{"x":{"field":"E","type":"quantitative"},"y":{"field":"v","type":"quantitative"},"text":{"field":"t"}}},
{"data":{"name":"notes"},"transform":[{"filter":"datum.p=='d'"}],"mark":{"type":"text","font":"Liberation Sans","fontSize":21,"align":"center","baseline":"alphabetic","color":"#000"},"encoding":{"x":{"field":"E","type":"quantitative"},"y":{"field":"v","type":"quantitative"},"text":{"field":"t"}}}
]},
{"width":178,"height":125,
"layer":[
{"data":{"name":"e_k"},"mark":{"type":"line","color":"#000000","strokeWidth":1.8},
"encoding":{"x":{"field":"E","type":"quantitative","scale":{"domain":[-1.75,0],"nice":false,"zero":false},"axis":{"values":[-1.5,-1.25,-1,-0.75,-0.5,-0.25,0],"labelExpr":"abs(datum.value*2-round(datum.value*2))<0.01 ? format(datum.value,'.1f') : ''","tickSize":{"condition":{"test":"abs(datum.value*2-round(datum.value*2))<0.01","value":7},"value":4},"title":null,"labelFlush":false,"labelOverlap":false}},
"y":{"field":"v","type":"quantitative","scale":{"domain":[0,1],"nice":false,"zero":false},"axis":{"values":[],"labels":false,"ticks":false,"title":null}}}},
{"data":{"name":"e_g"},"mark":{"type":"line","color":"#8c8c8c","strokeWidth":1.8},"encoding":{"x":{"field":"E","type":"quantitative"},"y":{"field":"v","type":"quantitative"}}},
{"data":{"name":"letters"},"transform":[{"filter":"datum.p=='e'"}],"mark":{"type":"text","font":"Liberation Sans","fontWeight":"bold","fontSize":27,"align":"left","baseline":"alphabetic","color":"#000"},"encoding":{"x":{"field":"E","type":"quantitative"},"y":{"field":"v","type":"quantitative"},"text":{"field":"t"}}},
{"data":{"name":"notes"},"transform":[{"filter":"datum.p=='e'"}],"mark":{"type":"text","font":"Liberation Sans","fontSize":21,"align":"center","baseline":"alphabetic","color":"#000"},"encoding":{"x":{"field":"E","type":"quantitative"},"y":{"field":"v","type":"quantitative"},"text":{"field":"t"}}}
]},
{"width":178,"height":125,
"layer":[
{"data":{"name":"f_k"},"mark":{"type":"line","color":"#000000","strokeWidth":1.8},
"encoding":{"x":{"field":"E","type":"quantitative","scale":{"domain":[-1.75,0],"nice":false,"zero":false},"axis":{"values":[-1.5,-1.25,-1,-0.75,-0.5,-0.25,0],"labelExpr":"abs(datum.value*2-round(datum.value*2))<0.01 ? format(datum.value,'.1f') : ''","tickSize":{"condition":{"test":"abs(datum.value*2-round(datum.value*2))<0.01","value":7},"value":4},"title":null,"labelFlush":false,"labelOverlap":false}},
"y":{"field":"v","type":"quantitative","scale":{"domain":[0,1],"nice":false,"zero":false},"axis":{"values":[],"labels":false,"ticks":false,"title":null}}}},
{"data":{"name":"f_g"},"mark":{"type":"line","color":"#8c8c8c","strokeWidth":1.8},"encoding":{"x":{"field":"E","type":"quantitative"},"y":{"field":"v","type":"quantitative"}}},
{"data":{"name":"letters"},"transform":[{"filter":"datum.p=='f'"}],"mark":{"type":"text","font":"Liberation Sans","fontWeight":"bold","fontSize":27,"align":"left","baseline":"alphabetic","color":"#000"},"encoding":{"x":{"field":"E","type":"quantitative"},"y":{"field":"v","type":"quantitative"},"text":{"field":"t"}}},
{"data":{"name":"notes"},"transform":[{"filter":"datum.p=='f'"}],"mark":{"type":"text","font":"Liberation Sans","fontSize":21,"align":"center","baseline":"alphabetic","color":"#000"},"encoding":{"x":{"field":"E","type":"quantitative"},"y":{"field":"v","type":"quantitative"},"text":{"field":"t"}}}
]},
{"width":178,"height":125,
"layer":[
{"data":{"name":"g_k"},"mark":{"type":"line","color":"#000000","strokeWidth":1.8},
"encoding":{"x":{"field":"E","type":"quantitative","scale":{"domain":[-1.75,0],"nice":false,"zero":false},"axis":{"values":[-1.5,-1.25,-1,-0.75,-0.5,-0.25,0],"labelExpr":"abs(datum.value*2-round(datum.value*2))<0.01 ? format(datum.value,'.1f') : ''","tickSize":{"condition":{"test":"abs(datum.value*2-round(datum.value*2))<0.01","value":7},"value":4},"title":null,"labelFlush":false,"labelOverlap":false}},
"y":{"field":"v","type":"quantitative","scale":{"domain":[0,1],"nice":false,"zero":false},"axis":{"values":[],"labels":false,"ticks":false,"title":"Normalized Intensity /a.u.","titleFontSize":28,"titlePadding":60,"titleY":-31}}}},
{"data":{"name":"g_g"},"mark":{"type":"line","color":"#8c8c8c","strokeWidth":1.8},"encoding":{"x":{"field":"E","type":"quantitative"},"y":{"field":"v","type":"quantitative"}}},
{"data":{"name":"letters"},"transform":[{"filter":"datum.p=='g'"}],"mark":{"type":"text","font":"Liberation Sans","fontWeight":"bold","fontSize":27,"align":"left","baseline":"alphabetic","color":"#000"},"encoding":{"x":{"field":"E","type":"quantitative"},"y":{"field":"v","type":"quantitative"},"text":{"field":"t"}}},
{"data":{"name":"notes"},"transform":[{"filter":"datum.p=='g'"}],"mark":{"type":"text","font":"Liberation Sans","fontSize":21,"align":"center","baseline":"alphabetic","color":"#000"},"encoding":{"x":{"field":"E","type":"quantitative"},"y":{"field":"v","type":"quantitative"},"text":{"field":"t"}}}
]},
{"width":178,"height":125,
"layer":[
{"data":{"name":"h_k"},"mark":{"type":"line","color":"#000000","strokeWidth":1.8},
"encoding":{"x":{"field":"E","type":"quantitative","scale":{"domain":[-1.75,0],"nice":false,"zero":false},"axis":{"values":[-1.5,-1.25,-1,-0.75,-0.5,-0.25,0],"labelExpr":"abs(datum.value*2-round(datum.value*2))<0.01 ? format(datum.value,'.1f') : ''","tickSize":{"condition":{"test":"abs(datum.value*2-round(datum.value*2))<0.01","value":7},"value":4},"title":"E /V vs RHE","titleFontSize":26,"titlePadding":24,"titleX":101,"labelFlush":false,"labelOverlap":false}},
"y":{"field":"v","type":"quantitative","scale":{"domain":[0,1],"nice":false,"zero":false},"axis":{"values":[],"labels":false,"ticks":false,"title":null}}}},
{"data":{"name":"h_g"},"mark":{"type":"line","color":"#8c8c8c","strokeWidth":1.8},"encoding":{"x":{"field":"E","type":"quantitative"},"y":{"field":"v","type":"quantitative"}}},
{"data":{"name":"letters"},"transform":[{"filter":"datum.p=='h'"}],"mark":{"type":"text","font":"Liberation Sans","fontWeight":"bold","fontSize":27,"align":"left","baseline":"alphabetic","color":"#000"},"encoding":{"x":{"field":"E","type":"quantitative"},"y":{"field":"v","type":"quantitative"},"text":{"field":"t"}}},
{"data":{"name":"notes"},"transform":[{"filter":"datum.p=='h'"}],"mark":{"type":"text","font":"Liberation Sans","fontSize":21,"align":"center","baseline":"alphabetic","color":"#000"},"encoding":{"x":{"field":"E","type":"quantitative"},"y":{"field":"v","type":"quantitative"},"text":{"field":"t"}}}
]},
{"width":178,"height":125,
"layer":[
{"data":{"name":"i_k"},"mark":{"type":"line","color":"#000000","strokeWidth":1.8},
"encoding":{"x":{"field":"E","type":"quantitative","scale":{"domain":[-1.75,0],"nice":false,"zero":false},"axis":{"values":[-1.5,-1.25,-1,-0.75,-0.5,-0.25,0],"labelExpr":"abs(datum.value*2-round(datum.value*2))<0.01 ? format(datum.value,'.1f') : ''","tickSize":{"condition":{"test":"abs(datum.value*2-round(datum.value*2))<0.01","value":7},"value":4},"title":null,"labelFlush":false,"labelOverlap":false}},
"y":{"field":"v","type":"quantitative","scale":{"domain":[0,1],"nice":false,"zero":false},"axis":{"values":[],"labels":false,"ticks":false,"title":null}}}},
{"data":{"name":"i_g"},"mark":{"type":"line","color":"#8c8c8c","strokeWidth":1.8},"encoding":{"x":{"field":"E","type":"quantitative"},"y":{"field":"v","type":"quantitative"}}},
{"data":{"name":"letters"},"transform":[{"filter":"datum.p=='i'"}],"mark":{"type":"text","font":"Liberation Sans","fontWeight":"bold","fontSize":27,"align":"left","baseline":"alphabetic","color":"#000"},"encoding":{"x":{"field":"E","type":"quantitative"},"y":{"field":"v","type":"quantitative"},"text":{"field":"t"}}},
{"data":{"name":"notes"},"transform":[{"filter":"datum.p=='i'"}],"mark":{"type":"text","font":"Liberation Sans","fontSize":21,"align":"center","baseline":"alphabetic","color":"#000"},"encoding":{"x":{"field":"E","type":"quantitative"},"y":{"field":"v","type":"quantitative"},"text":{"field":"t"}}}
]}
],
"config":{
"font":"Liberation Sans",
"view":{"stroke":null},
"axis":{"domainColor":"#000","domainWidth":1.6,"tickColor":"#000","tickWidth":1.6,"labelColor":"#000","labelFont":"Liberation Sans","labelFontSize":21,"labelPadding":4,"grid":false,"titleColor":"#000","titleFont":"Liberation Sans","titleFontSize":24,"titleFontWeight":"normal"}
}
}
